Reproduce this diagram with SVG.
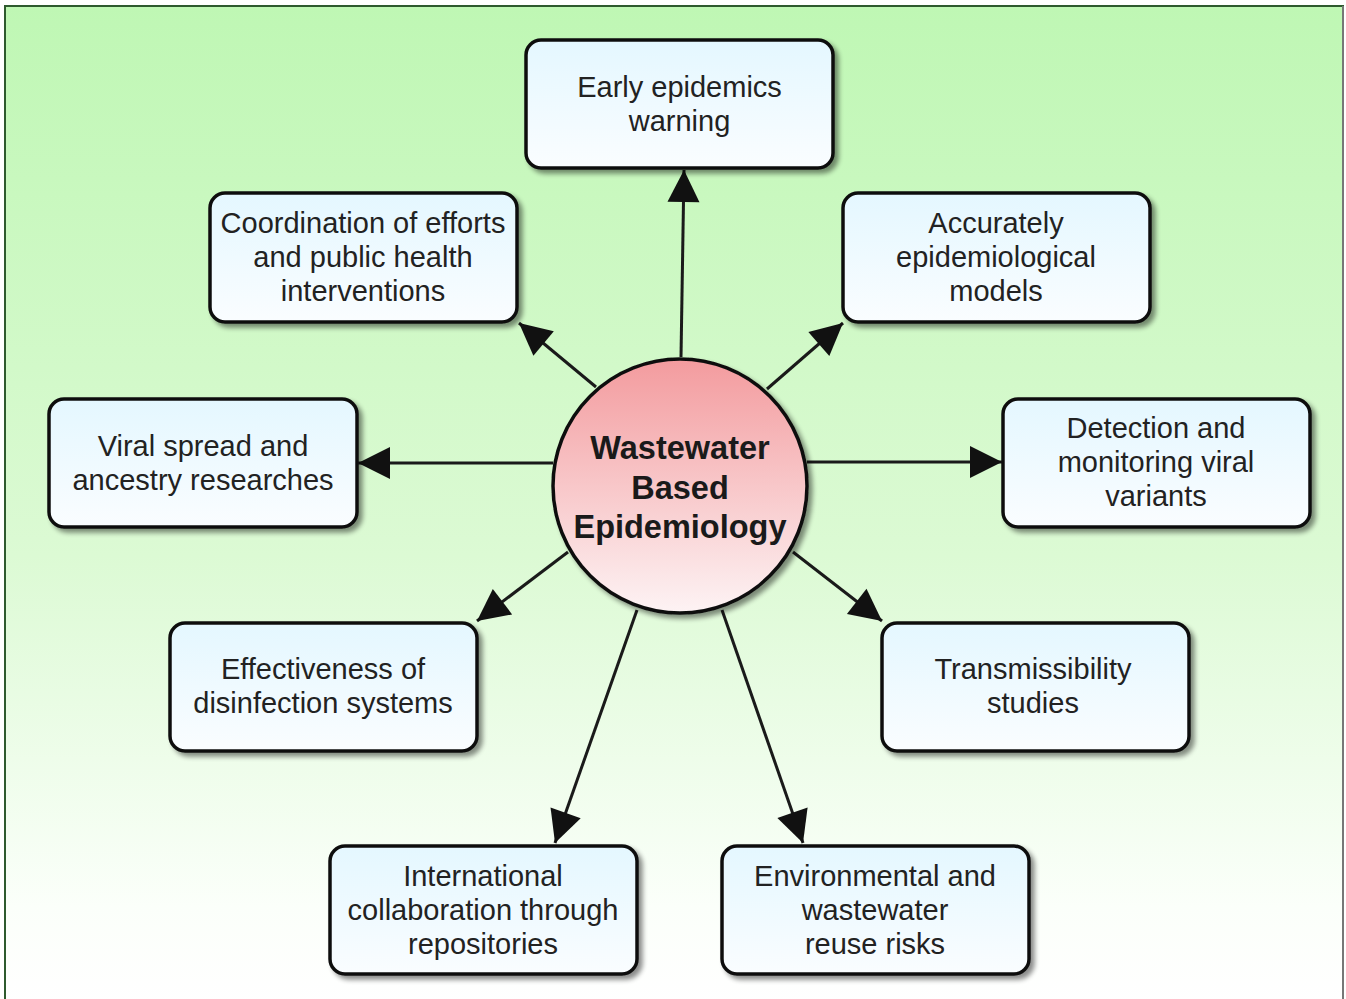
<svg xmlns="http://www.w3.org/2000/svg" width="1346" height="999" viewBox="0 0 1346 999">
<defs>
<linearGradient id="bg" x1="0" y1="0" x2="0" y2="1">
<stop offset="0" stop-color="#bff7b4"/>
<stop offset="0.55" stop-color="#dcfad4"/>
<stop offset="0.9" stop-color="#fbfffa"/>
<stop offset="1" stop-color="#ffffff"/>
</linearGradient>
<linearGradient id="box" x1="0" y1="0" x2="0" y2="1">
<stop offset="0" stop-color="#e4f7ff"/>
<stop offset="1" stop-color="#fafdff"/>
</linearGradient>
<linearGradient id="circ" x1="0" y1="0" x2="0" y2="1">
<stop offset="0" stop-color="#f39b9e"/>
<stop offset="1" stop-color="#fdf3f4"/>
</linearGradient>
<filter id="sh" x="-10%" y="-10%" width="130%" height="130%">
<feGaussianBlur in="SourceAlpha" stdDeviation="2.5"/>
<feOffset dx="4" dy="4" result="b"/>
<feComponentTransfer><feFuncA type="linear" slope="0.45"/></feComponentTransfer>
<feMerge><feMergeNode/><feMergeNode in="SourceGraphic"/></feMerge>
</filter>
<marker id="ah" markerUnits="userSpaceOnUse" markerWidth="36" markerHeight="36" viewBox="0 0 36 36" refX="34" refY="18" orient="auto">
<path d="M2,2 L34,18 L2,34 Z" fill="#111"/>
</marker>
</defs>
<style>
.node rect{fill:url(#box);stroke:#111;stroke-width:3.5;filter:url(#sh)}
.node text{font-family:"Liberation Sans",Arial,sans-serif;font-size:29px;fill:#222;text-anchor:middle;dominant-baseline:central}
.conn line{stroke:#1a1a1a;stroke-width:3;marker-end:url(#ah)}
</style>
<rect x="5" y="6" width="1338" height="1000" fill="url(#bg)" stroke="#2e5a2e" stroke-width="2"/>
<line x1="1343" y1="6" x2="1343" y2="999" stroke="#777" stroke-width="2"/>
<g id="connectors" class="conn">
<line x1="681" y1="357" x2="684" y2="170"/>
<line x1="596" y1="387" x2="519" y2="323"/>
<line x1="767" y1="389" x2="843" y2="323"/>
<line x1="553" y1="463" x2="358" y2="463"/>
<line x1="807" y1="462" x2="1002" y2="462"/>
<line x1="568" y1="552" x2="477" y2="621"/>
<line x1="793" y1="552" x2="882" y2="621"/>
<line x1="637" y1="610" x2="555" y2="843"/>
<line x1="722" y1="610" x2="803" y2="843"/>
</g>
<g id="center">
<circle cx="680" cy="486" r="127" fill="url(#circ)" stroke="#111" stroke-width="3.5" filter="url(#sh)"/>
<text x="680" y="488" font-family="Liberation Sans,Arial,sans-serif" font-size="32.5" font-weight="bold" fill="#1a1a1a" text-anchor="middle" dominant-baseline="central"><tspan x="680" dy="-40">Wastewater</tspan><tspan x="680" dy="40">Based</tspan><tspan x="680" dy="39">Epidemiology</tspan></text>
</g>
<g id="n-early" class="node">
<rect x="526" y="40" width="307" height="128" rx="15"/>
<text x="679.5" y="87">Early epidemics</text><text x="679.5" y="121">warning</text>
</g>
<g id="n-coord" class="node">
<rect x="210" y="193" width="307" height="129" rx="15"/>
<text x="363" y="223">Coordination of efforts</text><text x="363" y="257">and public health</text><text x="363" y="291">interventions</text>
</g>
<g id="n-accur" class="node">
<rect x="843" y="193" width="307" height="129" rx="15"/>
<text x="996" y="223">Accurately</text><text x="996" y="257">epidemiological</text><text x="996" y="291">models</text>
</g>
<g id="n-viral" class="node">
<rect x="49" y="399" width="308" height="128" rx="15"/>
<text x="203" y="446">Viral spread and</text><text x="203" y="480">ancestry researches</text>
</g>
<g id="n-detect" class="node">
<rect x="1003" y="399" width="307" height="128" rx="15"/>
<text x="1156" y="428">Detection and</text><text x="1156" y="462">monitoring viral</text><text x="1156" y="496">variants</text>
</g>
<g id="n-effect" class="node">
<rect x="170" y="623" width="307" height="128" rx="15"/>
<text x="323" y="669">Effectiveness of</text><text x="323" y="703">disinfection systems</text>
</g>
<g id="n-trans" class="node">
<rect x="882" y="623" width="307" height="128" rx="15"/>
<text x="1033" y="669">Transmissibility</text><text x="1033" y="703">studies</text>
</g>
<g id="n-intl" class="node">
<rect x="330" y="846" width="307" height="128" rx="15"/>
<text x="483" y="876">International</text><text x="483" y="910">collaboration through</text><text x="483" y="944">repositories</text>
</g>
<g id="n-env" class="node">
<rect x="722" y="846" width="307" height="128" rx="15"/>
<text x="875" y="876">Environmental and</text><text x="875" y="910">wastewater</text><text x="875" y="944">reuse risks</text>
</g>
</svg>
